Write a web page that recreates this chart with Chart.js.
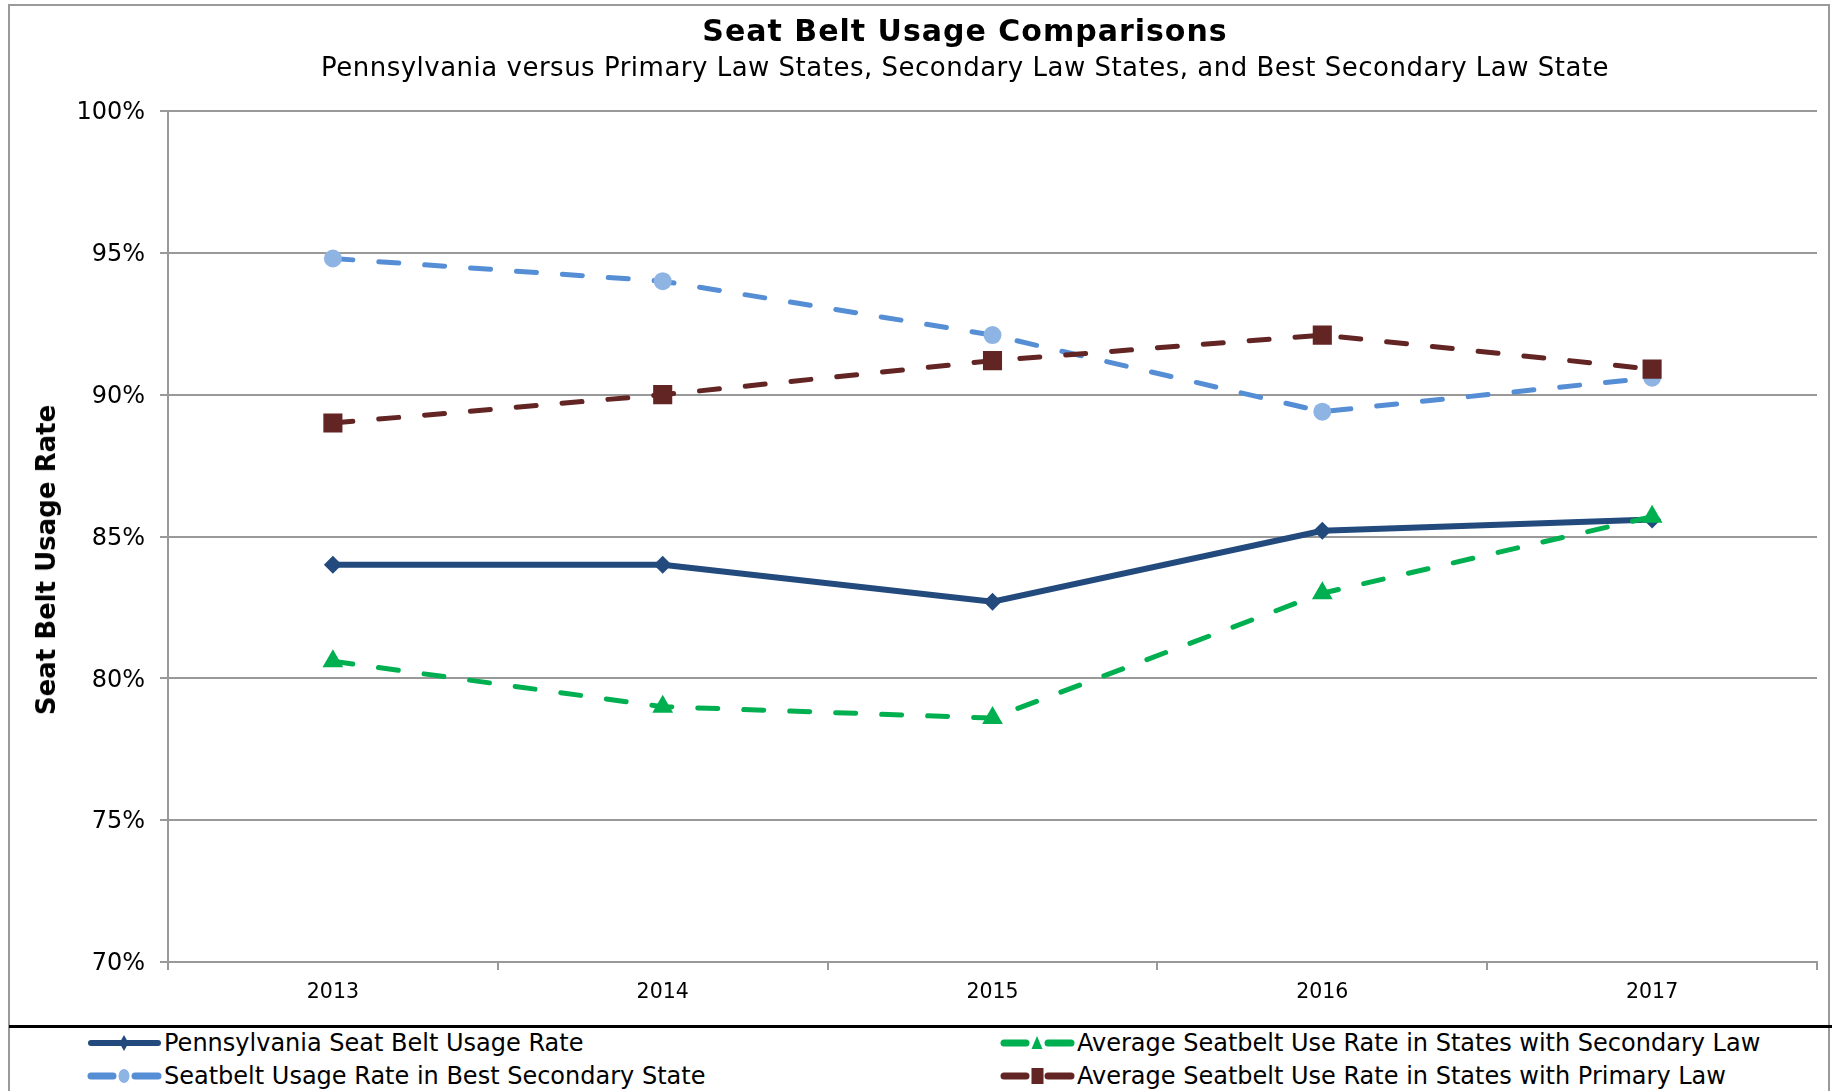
<!DOCTYPE html>
<html>
<head>
<meta charset="utf-8">
<script src="https://cdn.jsdelivr.net/npm/chart.js@4"></script>
<style>
  body { margin: 0; background: #fff; font-family: "DejaVu Sans", sans-serif; }
  #page { position: relative; width: 1839px; height: 1091px; overflow: hidden; background: #fff; }
  #frame { position: absolute; left: 8px; top: 4px; width: 1822px; height: 1200px; border: 2px solid #9a9a9a; box-sizing: border-box; }
  #sep { position: absolute; left: 9px; top: 1025px; width: 1823px; height: 3px; background: #000; }
  #chartBox { position: absolute; left: 0; top: 0; width: 1839px; height: 1024px; }
  .title { position: absolute; left: 0; width: 1930px; text-align: center; line-height: 1; color: #000; white-space: nowrap; }
  #t1 { top: 16px; font-size: 30px; font-weight: bold; letter-spacing: 1px; }
  #t2 { top: 54px; font-size: 26px; letter-spacing: 0.5px; }
  #ytitle { position: absolute; left: 45.5px; top: 560px; font-size: 26px; font-weight: bold; line-height: 1;
            white-space: nowrap; color: #000; transform: translate(-50%, -50%) rotate(-90deg); }
  .leg { position: absolute; height: 24px; font-size: 24px; line-height: 1; white-space: nowrap; color: #000; }
  .leg svg { position: absolute; left: -77px; top: 1px; }
</style>
</head>
<body>
<div id="page">
  <div id="frame"></div>
  <div id="chartBox"><canvas id="seatChart"></canvas></div>
  <div class="title" id="t1">Seat Belt Usage Comparisons</div>
  <div class="title" id="t2">Pennsylvania versus Primary Law States, Secondary Law States, and Best Secondary Law State</div>
  <div id="ytitle">Seat Belt Usage Rate</div>
  <div id="sep"></div>
  <div id="legend"></div>
</div>
<script>
const years = ['2013', '2014', '2015', '2016', '2017'];
const paRate = [84.0, 84.0, 82.7, 85.2, 85.6];
const secondaryAvg = [80.6, 79.0, 78.6, 83.0, 85.7];
const bestSecondary = [94.8, 94.0, 92.1, 89.4, 90.6];
const primaryAvg = [89.0, 90.0, 91.2, 92.1, 90.9];
const yTicks = [70, 75, 80, 85, 90, 95, 100];

const seriesNames = [
    'Pennsylvania Seat Belt Usage Rate',
    'Average Seatbelt Use Rate in States with Secondary Law',
    'Seatbelt Usage Rate in Best Secondary State',
    'Average Seatbelt Use Rate in States with Primary Law'
];

const DASH = [20, 26];

// Build chart
function initChart() {
    const ctx = document.getElementById('seatChart').getContext('2d');
    new Chart(ctx, {
        type: 'line',
        data: {
            labels: years,
            datasets: [{
                label: seriesNames[0],
                data: paRate,
                borderColor: '#234A7D',
                backgroundColor: '#234A7D',
                borderWidth: 6,
                pointStyle: 'rectRot',
                pointRadius: 9,
                pointBorderWidth: 0,
                tension: 0,
                order: 4
            }, {
                label: seriesNames[1],
                data: secondaryAvg,
                borderColor: '#00B050',
                backgroundColor: '#00B050',
                borderWidth: 5,
                borderDash: DASH,
                borderCapStyle: 'round',
                pointStyle: 'triangle',
                pointRadius: 12,
                pointBorderWidth: 0,
                tension: 0,
                order: 2
            }, {
                label: seriesNames[2],
                data: bestSecondary,
                borderColor: '#558ED5',
                backgroundColor: '#8EB4E3',
                borderWidth: 5,
                borderDash: DASH,
                borderCapStyle: 'round',
                pointStyle: 'circle',
                pointRadius: 9,
                pointBorderWidth: 0,
                tension: 0,
                order: 3
            }, {
                label: seriesNames[3],
                data: primaryAvg,
                borderColor: '#632523',
                backgroundColor: '#632523',
                borderWidth: 5,
                borderDash: DASH,
                borderCapStyle: 'round',
                pointStyle: 'rect',
                pointRadius: 13.5,
                pointBorderWidth: 0,
                tension: 0,
                order: 1
            }]
        },
        options: {
            responsive: true,
            maintainAspectRatio: false,
            animation: false,
            layout: { padding: { left: 10, right: 22, top: 111, bottom: 0 } },
            plugins: {
                legend: { display: false },
                title: { display: false },
                tooltip: { enabled: false }
            },
            scales: {
                x: {
                    type: 'category',
                    offset: true,
                    afterFit: (scale) => { scale.height = 62; },
                    grid: {
                        offset: true,
                        drawOnChartArea: false,
                        drawTicks: true,
                        tickLength: 8,
                        color: '#999',
                        lineWidth: 2
                    },
                    border: { display: true, color: '#999', width: 2 },
                    ticks: {
                        color: '#000',
                        padding: 10,
                        font: { family: 'DejaVu Sans', size: 20.5 }
                    }
                },
                y: {
                    min: 70,
                    max: 100,
                    afterFit: (scale) => { scale.width = 158; },
                    afterBuildTicks: (scale) => { scale.ticks = yTicks.map(v => ({ value: v })); },
                    grid: {
                        color: '#999',
                        lineWidth: 2,
                        tickLength: 8
                    },
                    border: { display: true, color: '#999', width: 2 },
                    ticks: {
                        color: '#000',
                        padding: 15,
                        labelOffset: 2,
                        font: { family: 'DejaVu Sans', size: 24 },
                        callback: (v) => v + '%'
                    }
                }
            }
        }
    });
}

// HTML legend, two columns like the original
function buildLegend() {
    const items = [
        { name: seriesNames[0], color: '#234A7D', mark: '#234A7D', shape: 'diamond', dash: false, x: 164, y: 1031 },
        { name: seriesNames[1], color: '#00B050', mark: '#00B050', shape: 'triangle', dash: true, x: 1077, y: 1031 },
        { name: seriesNames[2], color: '#558ED5', mark: '#8EB4E3', shape: 'circle', dash: true, x: 164, y: 1064 },
        { name: seriesNames[3], color: '#632523', mark: '#632523', shape: 'square', dash: true, x: 1077, y: 1064 }
    ];
    const host = document.getElementById('legend');
    items.forEach(it => {
        let line;
        if (it.dash) {
            line = `<line x1="4" y1="11" x2="26" y2="11" stroke="${it.color}" stroke-width="7" stroke-linecap="round"/>
                    <line x1="48" y1="11" x2="71" y2="11" stroke="${it.color}" stroke-width="7" stroke-linecap="round"/>`;
        } else {
            line = `<line x1="4" y1="11" x2="71" y2="11" stroke="${it.color}" stroke-width="6" stroke-linecap="round"/>`;
        }
        let mark = '';
        if (it.shape === 'diamond') mark = `<polygon points="37,3 41.5,11 37,19 32.5,11" fill="${it.mark}"/>`;
        if (it.shape === 'triangle') mark = `<polygon points="37,4 42.5,17 31.5,17" fill="${it.mark}"/>`;
        if (it.shape === 'circle') mark = `<ellipse cx="37" cy="11" rx="5.5" ry="7" fill="${it.mark}"/>`;
        if (it.shape === 'square') mark = `<rect x="31.5" y="3" width="12" height="16" fill="${it.mark}"/>`;
        const el = document.createElement('div');
        el.className = 'leg';
        el.style.left = it.x + 'px';
        el.style.top = it.y + 'px';
        el.innerHTML = `<svg width="76" height="22">${line}${mark}</svg>${it.name}`;
        host.appendChild(el);
    });
}

document.addEventListener('DOMContentLoaded', () => {
    initChart();
    buildLegend();
});
</script>
</body>
</html>
